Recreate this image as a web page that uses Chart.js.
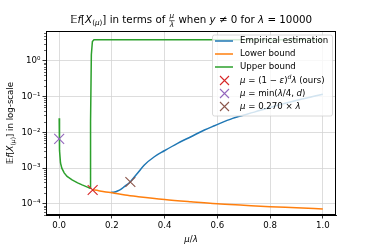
<!DOCTYPE html>
<html>
<head>
<meta charset="utf-8">
<script src="https://cdn.jsdelivr.net/npm/chart.js@4.4.0/dist/chart.umd.min.js"></script>
<style>
  html, body { margin: 0; padding: 0; background: #fff; }
  canvas { display: block; }
</style>
</head>
<body>
<canvas id="c" width="374" height="249"></canvas>
<script>
// values
const empX = [0.196, 0.21, 0.221, 0.235, 0.247, 0.27, 0.297, 0.323, 0.361, 0.399, 0.449, 0.5, 0.551, 0.589, 0.658, 0.74, 0.823, 0.91, 1.0];
const empY = [2.1e-4, 2.15e-4, 2.3e-4, 2.6e-4, 3.04e-4, 4.2e-4, 7.2e-4, 1.23e-3, 2.09e-3, 3.08e-3, 4.96e-3, 7.6e-3, 1.17e-2, 1.54e-2, 2.48e-2, 3.7e-2, 5.57e-2, 8.2e-2, 0.118];

const lowX = [0.127, 0.15, 0.171, 0.2, 0.25, 0.3, 0.4, 0.5, 0.6, 0.7, 0.8, 0.9, 1.0];
const lowY = [2.5e-4, 2.35e-4, 2.2e-4, 2.05e-4, 1.78e-4, 1.6e-4, 1.33e-4, 1.15e-4, 1.01e-4, 9.2e-5, 8.4e-5, 7.8e-5, 7.2e-5];

const upX = [0, 0.0005, 0.002, 0.005, 0.01, 0.019, 0.03, 0.049, 0.07, 0.087, 0.105, 0.117, 0.119, 0.122, 0.126, 0.132, 0.2, 0.4, 0.6, 0.8, 1.0];
const upY = [0.025, 0.012, 3.2e-3, 1.4e-3, 1.0e-3, 7.4e-4, 5.9e-4, 4.7e-4, 3.9e-4, 3.4e-4, 3.0e-4, 2.75e-4, 0.02, 1.5, 3.5, 3.95, 3.95, 3.95, 3.95, 3.95, 3.95];

const oursPt = [0.127, 2.45e-4];
const minPt = [0, 6.6e-3];
const fixedPt = [0.27, 4.1e-4];

const xTicks = [0, 0.2, 0.4, 0.6, 0.8, 1.0];
const yTicks = [1e-4, 1e-3, 1e-2, 1e-1, 1];
const yTickLabels = ['10\u207B\u2074', '10\u207B\u00B3', '10\u207B\u00B2', '10\u207B\u00B9', '10\u2070'];

const colors = ['#1f77b4', '#ff7f0e', '#2ca02c', '#d62728', '#9467bd', '#8c564b'];

// rich text pieces: t = text, i = italic, s = superscript, b = subscript, f = fraction
const legendText = [
    [{t: 'Empirical estimation'}],
    [{t: 'Lower bound'}],
    [{t: 'Upper bound'}],
    [{t: '\u03BC', i: 1}, {t: ' = (1 \u2212 '}, {t: '\u03B5', i: 1}, {t: ')'}, {t: 'd', i: 1, s: 1}, {t: '\u03BB', i: 1}, {t: ' (ours)'}],
    [{t: '\u03BC', i: 1}, {t: ' = min('}, {t: '\u03BB', i: 1}, {t: '/4, '}, {t: 'd', i: 1}, {t: ')'}],
    [{t: '\u03BC', i: 1}, {t: ' = 0.270 \u00D7 '}, {t: '\u03BB', i: 1}]
];
const titleText = [{t: '\uD835\uDD3C', i: 1}, {t: 'f', i: 1}, {t: '['}, {t: 'X', i: 1}, {t: '(', b: 1}, {t: '\u03BC', i: 1, b: 1}, {t: ')', b: 1}, {t: ']'},
    {t: ' in terms of '}, {f: ['\u03BC', '\u03BB']}, {t: ' when '}, {t: 'y', i: 1}, {t: ' \u2260 0 for '}, {t: '\u03BB', i: 1}, {t: ' = 10000'}];
const yLabelText = [{t: '\uD835\uDD3C', i: 1}, {t: 'f', i: 1}, {t: '['}, {t: 'X', i: 1}, {t: '(', b: 1}, {t: '\u03BC', i: 1, b: 1}, {t: ')', b: 1}, {t: ']'}, {t: ' in log-scale'}];
const xLabelText = [{t: '\u03BC', i: 1}, {t: '/'}, {t: '\u03BB', i: 1}];

const FONT = '"DejaVu Sans"';

function segFont(s, size) {
    const sz = (s.s || s.b || s.f) ? size * 0.7 : size;
    return (s.i ? 'italic ' : '') + sz + 'px ' + FONT;
}

function segWidth(ctx, s, size) {
    ctx.font = segFont(s, size);
    if (s.f) return Math.max(ctx.measureText(s.f[0]).width, ctx.measureText(s.f[1]).width) + 2;
    return ctx.measureText(s.t).width;
}

function drawRich(ctx, segs, x, y, size, align) {
    let w = 0;
    segs.forEach(s => { w += segWidth(ctx, s, size); });
    let cx = align === 'center' ? x - w / 2 : x;
    ctx.textBaseline = 'middle';
    ctx.textAlign = 'left';
    segs.forEach(s => {
        const sw = segWidth(ctx, s, size);
        ctx.font = segFont(s, size);
        if (s.f) {
            ctx.font = 'italic ' + size * 0.7 + 'px ' + FONT;
            ctx.textAlign = 'center';
            ctx.fillText(s.f[0], cx + sw / 2, y - size * 0.38);
            ctx.fillText(s.f[1], cx + sw / 2, y + size * 0.42);
            ctx.fillRect(cx + 0.5, y, sw - 1, 0.6);
            ctx.textAlign = 'left';
        } else {
            let dy = 0;
            if (s.s) dy = -size * 0.38;
            if (s.b) dy = size * 0.25;
            ctx.fillText(s.t, cx, y + dy);
        }
        cx += sw;
    });
}

const decorPlugin = {
    id: 'decor',
    afterDatasetsDraw(chart) {
        const ctx = chart.ctx;
        const a = chart.chartArea;
        const ys = chart.scales.y;
        ctx.save();

        // minor log ticks
        ctx.strokeStyle = '#000';
        ctx.lineWidth = 0.6;
        for (let k = -5; k <= 0; k++) {
            for (let m = 2; m <= 9; m++) {
                const v = m * Math.pow(10, k);
                if (v < ys.min || v > ys.max) continue;
                const py = Math.round(ys.getPixelForValue(v)) + 0.5;
                ctx.beginPath();
                ctx.moveTo(a.left - 2, py);
                ctx.lineTo(a.left, py);
                ctx.stroke();
            }
        }

        // frame
        ctx.lineWidth = 1;
        ctx.strokeRect(a.left + 0.5, a.top + 0.5, a.right - a.left - 1, a.bottom - a.top - 1);

        // legend
        const lx = 212.5, ly = 35, lw = 120, lh = 81;
        ctx.fillStyle = 'rgba(255,255,255,0.8)';
        ctx.strokeStyle = '#d0d0d0';
        ctx.lineWidth = 0.8;
        ctx.beginPath();
        ctx.roundRect(lx, ly, lw, lh, 2);
        ctx.fill();
        ctx.stroke();
        const rows = [41, 54, 67, 80.5, 93.5, 106.5];
        legendText.forEach((segs, i) => {
            const ry = rows[i];
            ctx.strokeStyle = colors[i];
            ctx.lineWidth = 1.5;
            ctx.beginPath();
            if (i < 3) {
                ctx.moveTo(215, ry);
                ctx.lineTo(233, ry);
            } else {
                ctx.moveTo(220, ry - 4.5);
                ctx.lineTo(229, ry + 4.5);
                ctx.moveTo(229, ry - 4.5);
                ctx.lineTo(220, ry + 4.5);
                ctx.lineWidth = 1.1;
            }
            ctx.stroke();
            ctx.fillStyle = '#000';
            drawRich(ctx, segs, 240, ry, 8.6, 'left');
        });

        // title and axis labels
        ctx.fillStyle = '#000';
        drawRich(ctx, titleText, (a.left + a.right) / 2, 20.5, 10.3, 'center');
        drawRich(ctx, xLabelText, (a.left + a.right) / 2, 240, 8.6, 'center');
        ctx.translate(11, (a.top + a.bottom) / 2);
        ctx.rotate(-Math.PI / 2);
        drawRich(ctx, yLabelText, 0, 0, 8.6, 'center');
        ctx.restore();
    }
};

function pts(xs, ys) {
    return xs.map((x, i) => ({x: x, y: ys[i]}));
}

function lineSet(label, xs, ys, color, order) {
    return {label, data: pts(xs, ys), showLine: true, borderColor: color, backgroundColor: color,
        borderWidth: 1.5, pointRadius: 0, tension: 0.3, cubicInterpolationMode: 'monotone', order};
}

function markSet(label, p, color, order) {
    return {label, data: [{x: p[0], y: p[1]}], showLine: false, pointStyle: 'crossRot',
        pointRadius: 7, pointBorderColor: color, borderColor: color, pointBorderWidth: 1.1, order};
}

new Chart(document.getElementById('c'), {
    type: 'scatter',
    data: {
        datasets: [
            lineSet('Empirical estimation', empX, empY, colors[0], 6),
            lineSet('Lower bound', lowX, lowY, colors[1], 5),
            Object.assign(lineSet('Upper bound', upX, upY, colors[2], 4), {tension: 0, cubicInterpolationMode: 'default'}),
            markSet('ours', oursPt, colors[3], 3),
            markSet('min', minPt, colors[4], 2),
            markSet('0.270', fixedPt, colors[5], 1)
        ]
    },
    options: {
        responsive: false,
        animation: false,
        devicePixelRatio: 1,
        layout: {padding: {left: 0, top: 31, right: 38, bottom: 0}},
        plugins: {legend: {display: false}, title: {display: false}, tooltip: {enabled: false}},
        scales: {
            x: {
                type: 'linear', min: -0.05, max: 1.05,
                afterBuildTicks: s => { s.ticks = xTicks.map(v => ({value: v})); },
                afterFit: s => { s.height = 34; },
                ticks: {callback: v => v.toFixed(1), color: '#000', font: {family: 'DejaVu Sans', size: 8.6}, padding: 2, maxRotation: 0},
                grid: {color: '#d4d4d4', lineWidth: 0.8, tickColor: '#000', tickLength: 3.5},
                border: {color: '#000', width: 1}
            },
            y: {
                type: 'logarithmic', min: 4.9e-5, max: 6.9,
                afterBuildTicks: s => { s.ticks = yTicks.map(v => ({value: v})); },
                afterFit: s => { s.width = 46; },
                ticks: {callback: (v, i) => yTickLabels[i], color: '#000', font: {family: 'DejaVu Sans', size: 8.6}, padding: 2},
                grid: {color: '#d4d4d4', lineWidth: 0.8, tickColor: '#000', tickLength: 3.5},
                border: {color: '#000', width: 1}
            }
        }
    },
    plugins: [decorPlugin]
});
</script>
</body>
</html>
